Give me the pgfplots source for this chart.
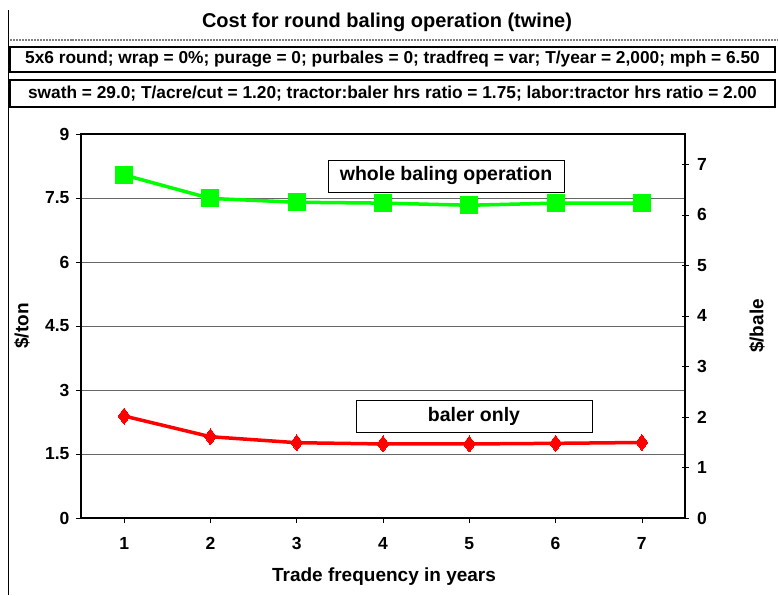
\documentclass[border=0pt]{standalone}
\usepackage{pgfplots}
\pgfplotsset{compat=1.18}
\usepackage{fontspec}
\setmainfont{Liberation Sans}
\definecolor{pgreen}{RGB}{0,255,0}
\definecolor{pred}{RGB}{255,0,0}
\begin{document}
\begin{tikzpicture}[x=1pt,y=1pt]
\useasboundingbox (-81,-77) rectangle (697,518);
\begin{axis}[at={(0,0)}, anchor=south west, scale only axis,
  width=604pt, height=384pt,
  xmin=0.5, xmax=7.5, ymin=0, ymax=9,
  xtick={1,...,7}, ytick={0,1.5,3,4.5,6,7.5,9},
  yticklabels={0,1.5,3,4.5,6,7.5,9},
  /pgf/number format/assume math mode=true,
  ytick pos=left, xtick pos=bottom,
  tick align=outside, major tick length=5pt,
  axis line style={line width=1.6pt},
  tick style={black, line width=0.7pt},
  ymajorgrids, grid style={gray!80!black, line width=0.6pt},
  ticklabel style={font=\bfseries\fontsize{17.5}{20}\selectfont},
  xticklabel style={yshift=-11pt},
  yticklabel style={xshift=-3pt},
  clip=false]
\addplot[pgreen, line width=3.5pt, mark=square*, mark size=8.5pt, mark options={solid, fill=pgreen, draw=pgreen, line width=0pt}]
  coordinates {(1,8.04) (2,7.49) (3,7.40) (4,7.38) (5,7.33) (6,7.38) (7,7.38)};
\addplot[pred, line width=3.5pt, mark=diamond*, mark size=8pt, mark options={solid, fill=pred, draw=pred, line width=0pt}]
  coordinates {(1,2.39) (2,1.905) (3,1.765) (4,1.735) (5,1.735) (6,1.75) (7,1.77)};
\end{axis}
\begin{axis}[at={(0,0)}, anchor=south west, scale only axis,
  width=604pt, height=384pt,
  xmin=0.5, xmax=7.5, ymin=0, ymax=7.6,
  axis x line=none, axis y line*=right,
  ytick={0,...,7},
  /pgf/number format/assume math mode=true,
  tick align=center, major tick length=7pt,
  axis line style={line width=1.6pt},
  tick style={black, line width=0.7pt},
  ticklabel style={font=\bfseries\fontsize{17.5}{20}\selectfont},
  yticklabel style={xshift=5pt}]
\end{axis}
% frame line on the left
\draw[black, line width=0.8pt] (-73,508) -- (-73,-77);
% title
\node[font=\bfseries\fontsize{20}{24}\selectfont] at (306,496) {Cost for round baling operation (twine)};
\draw[gray, line width=2.5pt, dash pattern=on 1pt off 0.5pt] (-71,478) -- (697,478);
\draw[black, line width=1.2pt] (-71,446) rectangle (694,471);
\node[font=\bfseries\fontsize{17.3}{20}\selectfont] at (311.5,458.5) {5x6 round; wrap = 0\%; purage = 0; purbales = 0; tradfreq = var; T/year = 2,000; mph = 6.50};
\draw[black, line width=1.2pt] (-71,411) rectangle (694,438);
\node[font=\bfseries\fontsize{17.3}{20}\selectfont] at (311.5,424.5) {swath = 29.0; T/acre/cut = 1.20; tractor:baler hrs ratio = 1.75; labor:tractor hrs ratio = 2.00};
% series labels
\node[draw=black, line width=0.8pt, fill=white, minimum width=236pt, minimum height=32pt, inner sep=0pt, font=\bfseries\fontsize{19.5}{22}\selectfont] at (365,342) {whole baling operation};
\node[draw=black, line width=0.8pt, fill=white, minimum width=236pt, minimum height=32pt, inner sep=0pt, font=\bfseries\fontsize{19.5}{22}\selectfont] at (393,102) {baler only};
% axis labels
\node[rotate=90, font=\bfseries\fontsize{19}{22}\selectfont] at (-59,192) {\$/ton};
\node[rotate=90, font=\bfseries\fontsize{19}{22}\selectfont] at (676,192) {\$/bale};
\node[font=\bfseries\fontsize{19}{22}\selectfont] at (303,-59) {Trade frequency in years};
\end{tikzpicture}
\end{document}
